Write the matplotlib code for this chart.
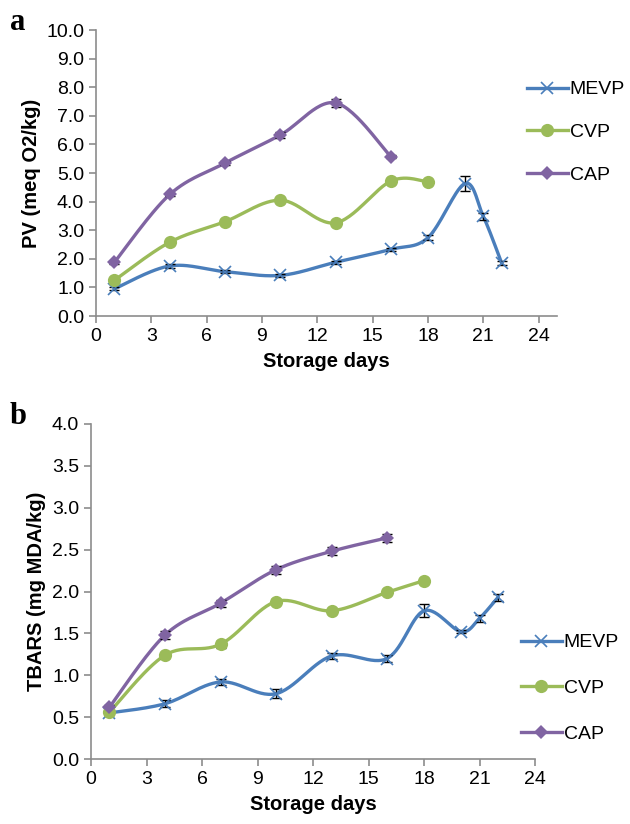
import numpy as np
import matplotlib
matplotlib.use("Agg")
import matplotlib.pyplot as plt
from matplotlib.lines import Line2D

plt.rcParams["font.family"] = ["Liberation Sans", "DejaVu Sans"]

# panel a: peroxide value
pv_days_mevp = [1, 4, 7, 10, 13, 16, 18, 20, 21, 22]
pv_mevp = [0.95, 1.75, 1.55, 1.42, 1.88, 2.33, 2.74, 4.63, 3.49, 1.85]
pv_mevp_err = [0.05, 0.06, 0.06, 0.05, 0.06, 0.06, 0.1, 0.25, 0.12, 0.08]
pv_days_cvp = [1, 4, 7, 10, 13, 16, 18]
pv_cvp = [1.25, 2.58, 3.30, 4.05, 3.26, 4.72, 4.69]
pv_cvp_err = [0.04, 0.05, 0.05, 0.05, 0.05, 0.05, 0.05]
pv_days_cap = [1, 4, 7, 10, 13, 16]
pv_cap = [1.88, 4.25, 5.35, 6.33, 7.45, 5.57]
pv_cap_err = [0.05, 0.06, 0.08, 0.12, 0.15, 0.06]

# panel b: TBARS
tb_days_mevp = [1, 4, 7, 10, 13, 16, 18, 20, 21, 22]
tb_mevp = [0.55, 0.66, 0.92, 0.78, 1.23, 1.20, 1.77, 1.52, 1.68, 1.93]
tb_mevp_err = [0.02, 0.04, 0.04, 0.05, 0.03, 0.04, 0.08, 0.02, 0.04, 0.04]
tb_days_cvp = [1, 4, 7, 10, 13, 16, 18]
tb_cvp = [0.56, 1.24, 1.37, 1.88, 1.77, 1.99, 2.13]
tb_cvp_err = [0.02, 0.03, 0.04, 0.03, 0.02, 0.02, 0.02]
tb_days_cap = [1, 4, 7, 10, 13, 16]
tb_cap = [0.62, 1.48, 1.86, 2.26, 2.48, 2.64]
tb_cap_err = [0.02, 0.05, 0.04, 0.05, 0.05, 0.05]

names = ["MEVP", "CVP", "CAP"]
colors = ["#4A7EBB", "#9BBB59", "#8064A2"]
AXC = "#8C8C8C"


def smooth(x, y, n=30):
    # excel style smoothed line (bezier through points)
    x = np.asarray(x, float)
    y = np.asarray(y, float)
    px = np.concatenate([[x[0]], x, [x[-1]]])
    py = np.concatenate([[y[0]], y, [y[-1]]])
    xs, ys = [], []
    t = np.linspace(0, 1, n)
    for i in range(1, len(px) - 2):
        p0 = np.array([px[i], py[i]])
        p3 = np.array([px[i + 1], py[i + 1]])
        c1 = p0 + (np.array([px[i + 1], py[i + 1]]) - np.array([px[i - 1], py[i - 1]])) / 6
        c2 = p3 - (np.array([px[i + 2], py[i + 2]]) - p0) / 6
        b = ((1 - t) ** 3)[:, None] * p0 + (3 * (1 - t) ** 2 * t)[:, None] * c1 \
            + (3 * (1 - t) * t ** 2)[:, None] * c2 + (t ** 3)[:, None] * p3
        xs.extend(b[:, 0])
        ys.extend(b[:, 1])
    return xs, ys


def style_axes(ax):
    for s in ["top", "right"]:
        ax.spines[s].set_visible(False)
    for s in ["left", "bottom"]:
        ax.spines[s].set_color(AXC)
        ax.spines[s].set_linewidth(1.2)
    ax.tick_params(colors=AXC, labelcolor="black", labelsize=14, length=5, width=1.2)


def draw(ax, series):
    markers = [dict(marker="x", ms=9, mew=1.2),
               dict(marker="o", ms=9.5, mew=0),
               dict(marker="D", ms=7.2, mew=0)]
    for (d, v, e), c, m in zip(series, colors, markers):
        sx, sy = smooth(d, v)
        ax.plot(sx, sy, color=c, lw=2.4, solid_capstyle="round", zorder=2)
        ax.errorbar(d, v, yerr=e, fmt="none", ecolor="black", elinewidth=1,
                    capsize=3.5, capthick=1, zorder=3)
        ax.plot(d, v, ls="none", color=c, mec=c, zorder=4, **m)
    handles = [Line2D([], [], color=c, lw=2.4, **m) for c, m in zip(colors, markers)]
    return handles


fig = plt.figure(figsize=(6.3, 8.24), dpi=100)
W, H = 630, 824

ax1 = fig.add_axes([96 / W, 1 - 316 / H, (557 - 96) / W, 286 / H])
h = draw(ax1, [(pv_days_mevp, pv_mevp, pv_mevp_err),
               (pv_days_cvp, pv_cvp, pv_cvp_err),
               (pv_days_cap, pv_cap, pv_cap_err)])
ax1.set_xlim(0, 25)
ax1.set_ylim(0, 10)
ax1.set_xticks(range(0, 25, 3))
ax1.set_yticks(np.arange(0, 10.1, 1))
ax1.set_yticklabels([f"{v:.1f}" for v in np.arange(0, 10.1, 1)])
ax1.set_xlabel("Storage days", fontsize=14.5, fontweight="bold", labelpad=5)
ax1.set_ylabel("PV (meq O2/kg)", fontsize=14.5, fontweight="bold", labelpad=4)
style_axes(ax1)
ax1.legend(h, names, loc="upper left", bbox_to_anchor=(519 / W, 1 - 73 / H),
           bbox_transform=fig.transFigure, frameon=False, fontsize=14,
           handlelength=2.1, labelspacing=1.3, handletextpad=0.1, borderaxespad=0)

ax2 = fig.add_axes([91 / W, 1 - 759 / H, (535 - 91) / W, 335 / H])
h = draw(ax2, [(tb_days_mevp, tb_mevp, tb_mevp_err),
               (tb_days_cvp, tb_cvp, tb_cvp_err),
               (tb_days_cap, tb_cap, tb_cap_err)])
ax2.set_xlim(0, 24)
ax2.set_ylim(0, 4)
ax2.set_xticks(range(0, 25, 3))
ax2.set_yticks(np.arange(0, 4.01, 0.5))
ax2.set_yticklabels([f"{v:.1f}" for v in np.arange(0, 4.01, 0.5)])
ax2.set_xlabel("Storage days", fontsize=14.5, fontweight="bold", labelpad=5)
ax2.set_ylabel("TBARS (mg MDA/kg)", fontsize=14.5, fontweight="bold", labelpad=4)
style_axes(ax2)
ax2.legend(h, names, loc="upper left", bbox_to_anchor=(513 / W, 1 - 626 / H),
           bbox_transform=fig.transFigure, frameon=False, fontsize=14,
           handlelength=2.1, labelspacing=1.45, handletextpad=0.1, borderaxespad=0)

fig.text(10 / W, 1 - 30 / H, "a", fontsize=22, fontweight="bold", family="Liberation Serif")
fig.text(10 / W, 1 - 424 / H, "b", fontsize=22, fontweight="bold", family="Liberation Serif")

fig.savefig("out.png", dpi=100)
